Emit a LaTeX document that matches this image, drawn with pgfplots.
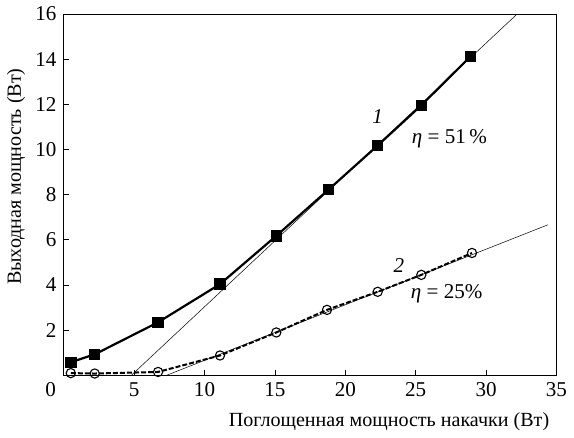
\documentclass[border=0pt]{standalone}
\usepackage{pgfplots}
\pgfplotsset{compat=1.18}
\usepackage{fontspec}
\setmainfont{Liberation Serif}
\begin{document}
\fontsize{21}{24}\selectfont
\begin{tikzpicture}
\begin{axis}[
  scale only axis,
  width=491pt, height=360pt,
  xmin=0, xmax=35, ymin=0, ymax=16,
  xtick={5,10,...,35},
  ytick={2,4,...,16},
  extra x ticks={0},
  extra x tick labels={0},
  extra x tick style={major tick length=0pt, xticklabel style={xshift=-13pt}},
  tick align=inside,
  tick pos=left,
  major tick length=5pt,
  tick style={black, line width=0.8pt},
  axis line style={line width=0.9pt},
  /pgf/number format/assume math mode=true,
  ticklabel style={font=\fontsize{21}{24}\selectfont},
  label style={font=\fontsize{20}{23}\selectfont},
  xlabel={Поглощенная мощность накачки (Вт)},
  ylabel={Выходная мощность (Вт)},
  xlabel style={at={(axis description cs:1,0)}, anchor=north east, yshift=-30pt},
  ylabel style={at={(ticklabel cs:0.55)}, yshift=-4pt},
  clip=true,
]
% fit lines
\addplot[black, line width=0.5pt] coordinates {(4.8,0) (32.2,16)};
\addplot[black, line width=0.5pt] coordinates {(7.3,0) (34.4,6.67)};
% series 1
\addplot[black, line width=2.2pt, mark=square*, mark size=4.6pt, mark options={solid}] coordinates {
 (0.5,0.58) (2.2,0.93) (6.7,2.35) (11.1,4.04) (15.1,6.18) (18.8,8.22) (22.3,10.18) (25.4,11.96) (28.9,14.13)};
% series 2
\addplot[black, line width=2pt, dash pattern=on 5pt off 2pt, mark=o, mark size=4.6pt, mark options={solid, fill=white, line width=1.1pt}] coordinates {
 (0.5,0.1) (2.2,0.08) (6.7,0.15) (11.1,0.88) (15.1,1.9) (18.7,2.9) (22.3,3.7) (25.4,4.45) (29.0,5.42)};
\node[font=\itshape] at (axis cs:22.3,11.45) {1};
\node at (axis cs:27.4,10.5) {\textit{η} = 51\,\%};
\node[font=\itshape] at (axis cs:23.8,4.85) {2};
\node at (axis cs:27.2,3.6) {\textit{η} = 25\%};
\end{axis}
\end{tikzpicture}
\end{document}
